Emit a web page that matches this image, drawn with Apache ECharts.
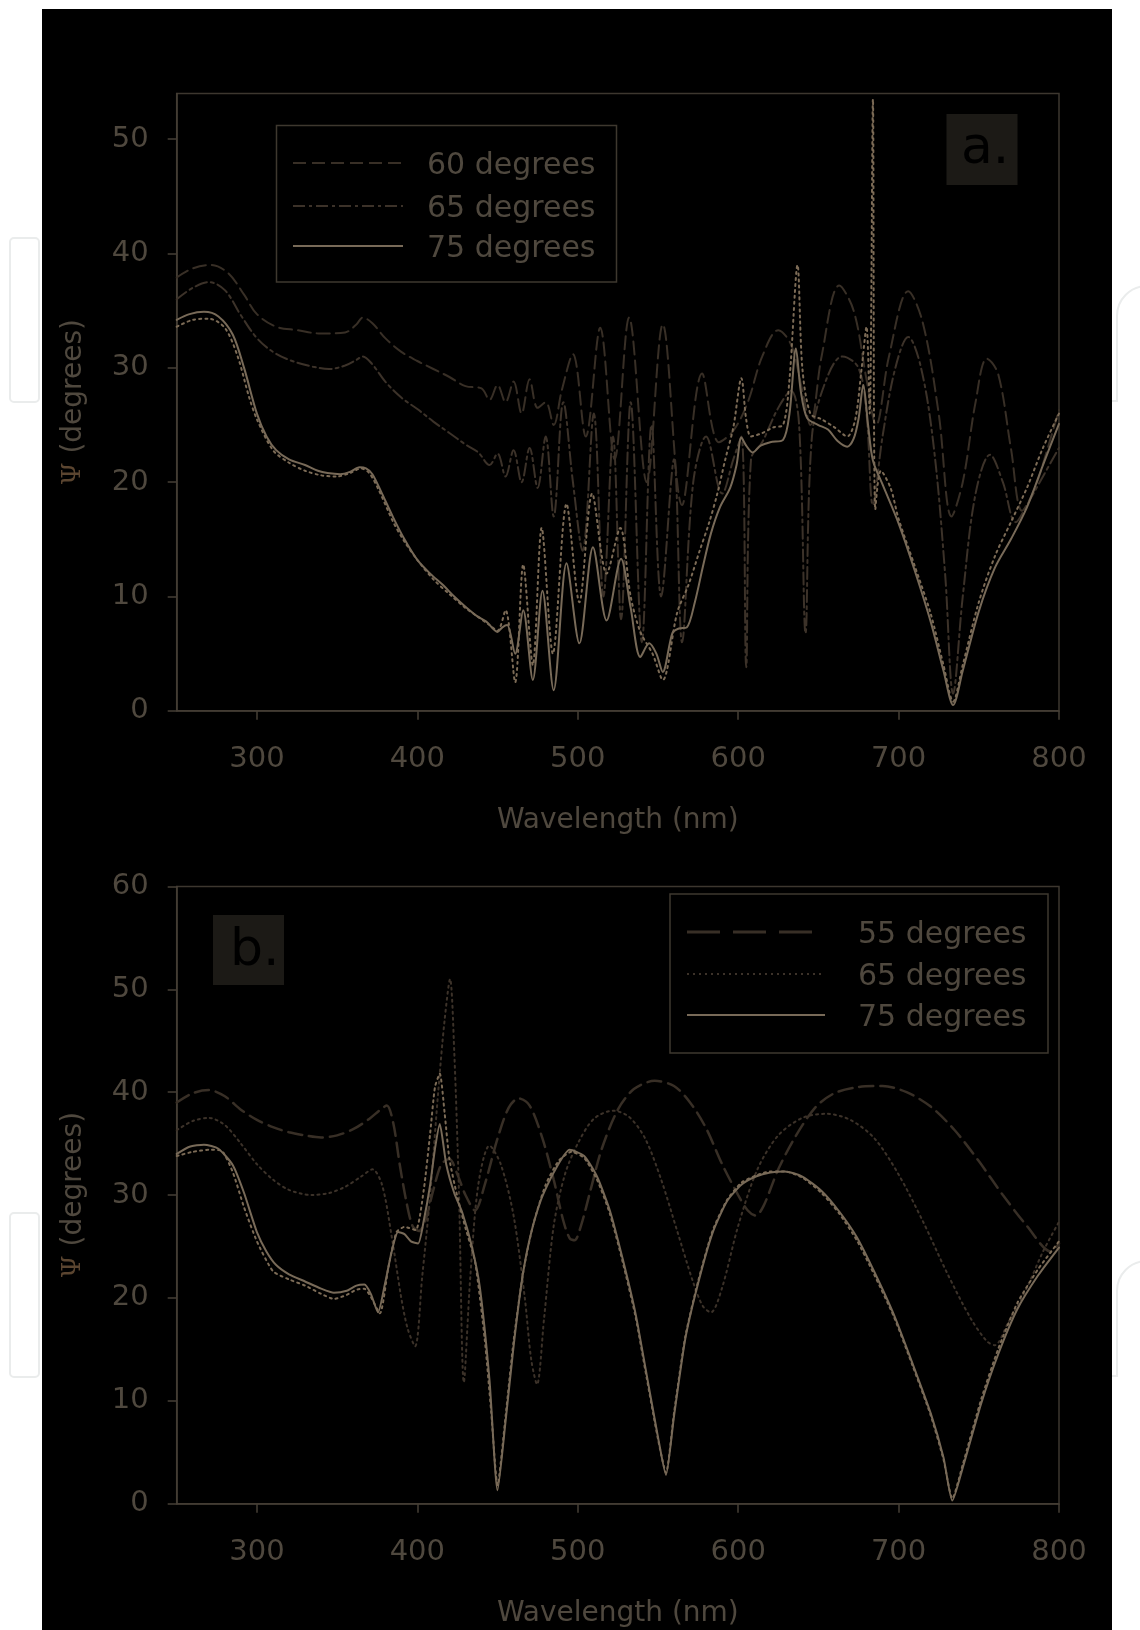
<!DOCTYPE html>
<html>
<head>
<meta charset="utf-8">
<script src="https://cdn.jsdelivr.net/npm/echarts@6/dist/echarts.min.js"></script>
<style>
  html, body { margin: 0; padding: 0; background: #ffffff; }
  #chart { width: 1140px; height: 1630px; }
</style>
</head>
<body>
<div id="chart"></div>
<script>
// Ellipsometric angle Ψ versus wavelength, two samples (a, b), several incidence angles.

const xTicks = [300, 400, 500, 600, 700, 800];
const yTicksA = [0, 10, 20, 30, 40, 50];
const yTicksB = [0, 10, 20, 30, 40, 50, 60];

// ---- panel a ----
const a60 = [[250,37.9],[260,38.7],[271,39.0],[282,38.3],[292,36.4],[300,34.7],[312,33.6],[325,33.3],[340,33.0],[355,33.1],[362,33.8],[366,34.4],[372,33.9],[380,32.6],[390,31.4],[400,30.6],[410,29.9],[420,29.2],[430,28.4],[440,28.2],[445,27.2],[450,28.5],[455,27.0],[460,28.8],[465,26.0],[470,29.0],[475,26.5],[480,27.0],[485,25.0],[490,28.0],[497,31.2],[505,24.0],[514,33.5],[523,22.0],[532,34.4],[543,20.0],[553,33.8],[565,18.0],[577.5,29.5],[588,23.5],[597,24.5],[606,27.0],[615,31.0],[625,33.3],[633,32.0],[640,28.0],[645,25.0],[652,31.0],[663,37.2],[672,35.0],[680,29.0],[686,25.0],[694,31.0],[706,36.7],[715,34.0],[725,26.0],[733,17.0],[740,20.0],[748,27.0],[755,30.8],[762,29.5],[770,23.0],[777,17.5],[785,19.5],[793,23.0],[800,26.3]];

const a65 = [[250,36.0],[260,37.0],[270,37.5],[280,36.8],[290,34.6],[300,32.6],[310,31.4],[320,30.7],[335,30.1],[345,29.9],[355,30.2],[362,30.7],[366,31.0],[372,30.3],[380,28.8],[390,27.4],[400,26.4],[410,25.3],[420,24.3],[430,23.3],[438,22.6],[445,21.5],[450,22.5],[455,20.5],[460,22.8],[465,20.0],[470,23.0],[475,19.5],[480,24.0],[485,17.0],[491,27.0],[497,20.0],[503,14.0],[510,26.0],[516,10.0],[522,24.0],[527,8.0],[533,27.0],[540,6.0],[546,25.0],[552,10.0],[560,22.0],[565,6.0],[572,20.0],[580,24.0],[590,19.0],[597,22.0],[602,24.0],[605,3.8],[608,22.0],[615,23.5],[625,26.5],[633,28.0],[638,25.0],[642,6.8],[646,24.0],[655,29.0],[665,31.0],[675,30.0],[680,26.0],[684,18.0],[690,24.0],[698,30.0],[706,32.7],[714,30.0],[722,23.0],[729,12.0],[734,1.5],[740,10.0],[748,19.0],[757,22.4],[765,20.0],[773,16.5],[780,18.0],[790,20.5],[800,23.0]];

const a75meas = [[250,33.6],[260,34.2],[270,34.3],[280,33.5],[288,31.0],[295,27.5],[300,25.5],[310,22.8],[320,21.7],[330,21.0],[340,20.6],[350,20.5],[358,20.8],[365,21.2],[370,20.8],[376,19.3],[385,16.5],[392,14.8],[400,13.2],[410,11.5],[420,10.2],[430,9.0],[438,8.2],[445,7.5],[450,7.0],[455,8.8],[461,2.5],[466,12.8],[472,4.0],[477.5,16.0],[484.5,5.0],[493,18.1],[501,9.5],[509,19.0],[518,12.0],[526.5,16.0],[533,10.0],[539,6.9],[546.6,5.0],[553,2.7],[562,8.6],[569,11.0],[576,14.0],[582,16.5],[587,19.0],[592,22.0],[597,24.8],[602,29.1],[605,25.5],[608,24.0],[615,24.3],[622,24.8],[628,25.0],[632,29.0],[637,39.0],[640,30.0],[645,26.0],[652,25.5],[660,24.8],[668,24.0],[673,25.5],[677,30.0],[680,33.6],[682,26.0],[684,53.5],[685.5,17.6],[689,21.0],[695,19.5],[700,16.8],[710,12.7],[720,8.5],[728,4.0],[734,0.8],[740,4.0],[750,9.5],[760,13.5],[770,16.5],[780,19.5],[790,23.0],[800,26.0]];

const a75 = [[250,34.2],[258,34.7],[267,34.9],[276,34.5],[285,32.9],[292,30.0],[300,26.0],[306,24.0],[312,22.8],[320,22.0],[330,21.5],[338,21.0],[344,20.8],[352,20.7],[358,20.9],[364,21.3],[368,21.2],[372,20.7],[378,19.0],[385,16.9],[392,15.0],[400,13.2],[408,12.0],[416,11.0],[423,10.0],[430,9.1],[437,8.3],[443,7.8],[450,6.9],[453,7.3],[456,7.5],[461,5.0],[466,8.8],[472,2.7],[478,10.5],[485,1.8],[493,12.9],[501,5.9],[509.5,14.3],[518,7.9],[527,13.3],[533,9.0],[539,4.7],[544.5,5.9],[549,5.0],[553,3.4],[559,6.8],[563,7.2],[568,7.3],[573,9.5],[578,12.6],[583,15.5],[588.6,17.8],[595,19.5],[599,21.5],[602,23.9],[605,23.2],[609,22.6],[614,23.2],[620,23.5],[628,23.7],[632,26.0],[636,31.7],[639,28.0],[643,25.6],[650,25.0],[656,24.6],[662,23.6],[668,23.1],[672,23.8],[675,25.5],[678,28.5],[681,25.0],[684,21.9],[690,19.8],[700,16.4],[710,12.3],[720,7.8],[728,3.5],[734,0.5],[740,3.5],[750,8.7],[760,12.5],[770,15.0],[780,17.8],[790,21.5],[800,25.1]];

// ---- panel b ----
const b55 = [[250,39.0],[260,39.9],[270,40.2],[280,39.6],[290,38.3],[300,37.3],[310,36.6],[320,36.1],[330,35.8],[340,35.6],[350,35.8],[360,36.4],[370,37.4],[377,38.3],[381,38.7],[385,37.0],[389,33.0],[393,29.5],[397,27.0],[401,26.5],[405,27.5],[410,30.5],[415,33.0],[420,33.5],[425,32.0],[430,30.0],[436,28.5],[442,31.0],[450,35.5],[457,38.5],[463,39.4],[470,38.7],[478,35.5],[485,31.5],[491,27.5],[495,25.8],[498,25.6],[502,27.0],[508,30.5],[515,34.5],[525,38.3],[535,40.3],[548,41.1],[560,40.6],[570,39.0],[580,36.5],[590,33.0],[600,30.0],[606,28.5],[611,28.0],[616,29.0],[625,32.5],[635,35.5],[648,38.5],[660,39.9],[675,40.5],[690,40.6],[705,40.0],[720,38.6],[735,36.3],[750,33.3],[765,30.0],[780,27.0],[795,24.5],[800,25.3]];

const b65 = [[250,36.3],[260,37.2],[270,37.5],[280,36.8],[290,35.0],[300,33.0],[310,31.5],[320,30.5],[334,30.0],[345,30.2],[355,30.8],[365,31.8],[372,32.5],[378,31.0],[384,26.0],[390,20.0],[394,17.0],[398.6,15.3],[403,22.0],[408,30.0],[413,40.0],[417,47.0],[420.4,51.0],[423,44.0],[426,30.0],[429,11.8],[433,22.0],[438,31.0],[445,34.8],[452,33.0],[460,28.0],[467,20.0],[471,14.0],[474.6,11.6],[479,18.0],[485,27.0],[492,32.0],[500,35.0],[510,37.4],[522,38.2],[532,37.6],[542,35.5],[552,31.5],[562,26.5],[572,21.5],[578,19.2],[583,18.6],[590,21.0],[600,27.0],[612,32.5],[625,35.8],[640,37.5],[655,37.9],[670,37.3],[685,35.5],[700,32.0],[715,27.5],[730,22.5],[745,18.0],[755,15.8],[760,15.4],[768,17.5],[780,21.0],[790,24.5],[800,27.4]];

const b75meas = [[250,33.8],[260,34.2],[270,34.4],[278,34.3],[285,32.2],[292,28.8],[300,25.5],[310,22.6],[320,21.8],[330,21.2],[340,20.4],[348,19.9],[356,20.3],[362,20.8],[367,20.9],[371,20.1],[376.7,18.5],[382,23.0],[387,26.4],[392,26.9],[399,26.6],[404,30.5],[408,36.0],[411,40.5],[414,41.8],[417,38.0],[420,33.5],[425,29.8],[430,26.8],[436,23.5],[442,16.0],[446,9.0],[450,1.8],[455,8.5],[460,15.8],[466,22.5],[472,27.0],[480,31.0],[488,33.3],[496,34.2],[504,33.6],[512,31.5],[520,28.2],[528,23.5],[536,18.2],[543,12.2],[550,6.3],[555,3.0],[560,8.8],[567,16.2],[575,21.6],[584,26.5],[593,29.5],[602,31.2],[611,31.9],[620,32.3],[629,32.3],[640,31.7],[652,30.2],[663,28.2],[674,25.6],[685,22.2],[697,18.2],[709,13.3],[720,8.6],[728,4.3],[733.5,0.5],[740,3.8],[751.6,10.2],[762,15.0],[774,19.5],[787,22.8],[800,25.5]];

const b75 = [[250,34.0],[258,34.7],[267,34.9],[276,34.5],[285,32.9],[292,30.2],[300,26.4],[306,24.5],[312,23.2],[320,22.3],[330,21.6],[340,20.9],[348,20.5],[356,20.7],[362,21.2],[367,21.3],[371,20.4],[375.5,18.6],[380,21.5],[384,24.5],[388,26.4],[392,26.2],[396,25.5],[400.5,25.3],[404,27.5],[408,31.0],[411,34.5],[414,36.9],[418,33.0],[423,30.2],[428,28.3],[434,25.0],[439,21.0],[445,12.0],[450,1.3],[455,8.0],[460,15.3],[465,21.5],[470,25.7],[477,29.5],[485,32.2],[495,34.4],[504,33.8],[512,31.8],[520,28.5],[528,23.8],[536,18.5],[543,12.5],[550,6.5],[555,2.8],[560,8.5],[567,16.0],[575,21.4],[584,26.3],[593,29.4],[602,31.0],[611,31.8],[620,32.2],[629,32.3],[640,31.8],[652,30.4],[663,28.4],[674,25.9],[685,22.5],[697,18.4],[709,13.5],[720,8.8],[728,4.5],[733.5,0.3],[740,3.5],[751.6,9.8],[762,14.5],[774,18.9],[787,22.2],[800,24.9]];

const legendA = ['60 degrees', '65 degrees', '75 degrees'];
const legendB = ['55 degrees', '65 degrees', '75 degrees'];

// ---- styling ----
const FONT = '"DejaVu Sans", "Liberation Sans", sans-serif';
const TEXT = '#4f483e';
const AXIS = '#463f36';
const DARK = '#382f26';
const DARK2 = '#3c3229';
const LIGHT = '#7c6b56';
const SOLID = '#786a58';

const DASH = [13, 6];
const DASHDOT = [12, 4, 3, 4];
const DOTS = [2, 4];

function xAxis(grid) {
  return {
    type: 'value', gridIndex: grid, min: 250, max: 800, interval: 50,
    axisLine: { show: true, lineStyle: { color: AXIS, width: 1.5 } },
    axisTick: { show: true, customValues: xTicks, length: 9, lineStyle: { color: AXIS, width: 1.5 } },
    axisLabel: { customValues: xTicks, margin: 34, color: TEXT, fontSize: 29, fontFamily: FONT },
    splitLine: { show: false },
    name: 'Wavelength (nm)', nameLocation: 'middle', nameGap: 96,
    nameTextStyle: { color: TEXT, fontSize: 28, fontFamily: FONT }
  };
}
function yAxis(grid, max, ticks) {
  return {
    type: 'value', gridIndex: grid, min: 0, max: max, interval: 10,
    axisLine: { show: true, lineStyle: { color: AXIS, width: 1.5 } },
    axisTick: { show: true, customValues: ticks, length: 9, lineStyle: { color: AXIS, width: 1.5 } },
    axisLabel: { customValues: ticks, margin: 28, color: TEXT, fontSize: 29, fontFamily: FONT },
    splitLine: { show: false },
    name: '{psi|Ψ} (degrees)', nameLocation: 'middle', nameRotate: 90, nameGap: 89,
    nameTextStyle: {
      color: TEXT, fontSize: 28, fontFamily: FONT,
      rich: { psi: { color: '#5b4530', fontSize: 26, fontFamily: '"DejaVu Serif", serif' } }
    }
  };
}
function line(name, data, idx, color, type, width, smooth) {
  return {
    name: name, type: 'line', xAxisIndex: idx, yAxisIndex: idx,
    data: data, showSymbol: false, symbol: 'none', smooth: smooth,
    lineStyle: { color: color, width: width, type: type, cap: 'round' },
    silent: true, animation: false
  };
}

// legend box drawn inside a panel
function legendBox(x, y, w, h, lineX1, lineX2, textX, rows, names, styles) {
  const els = [{
    type: 'rect', shape: { x: x, y: y, width: w, height: h },
    style: { fill: '#000000', stroke: '#3e382f', lineWidth: 1.5 }, z: 50
  }];
  rows.forEach((ry, i) => {
    els.push({
      type: 'line', shape: { x1: lineX1, y1: ry, x2: lineX2, y2: ry },
      style: { stroke: styles[i].color, lineWidth: styles[i].width, lineDash: styles[i].dash }, z: 51
    });
    els.push({
      type: 'text', x: textX, y: ry + 3,
      style: { text: names[i], fill: TEXT, font: '30px ' + FONT, textAlign: 'left', textVerticalAlign: 'middle' }, z: 51
    });
  });
  return els;
}

function panelTag(x, y, w, h, tx, ty, label) {
  return [
    { type: 'rect', shape: { x: x, y: y, width: w, height: h }, style: { fill: '#1c1a16' }, z: 50 },
    { type: 'text', x: tx, y: ty, style: { text: label, fill: '#000000', font: '52px ' + FONT, textAlign: 'left', textVerticalAlign: 'middle' }, z: 51 }
  ];
}

// faint outline marks in the white page margins
const margin = { stroke: '#eaecec', lineWidth: 2, fill: null };
function marginMarks(dy) {
  return [
    { type: 'rect', shape: { x: 10, y: 238 + dy, width: 29, height: 164, r: 4 }, style: margin, z: -90 },
    { type: 'polyline', shape: { points: [[1112, 401 + dy], [1117, 401 + dy], [1117, 316 + dy]] }, style: margin, z: -90 },
    { type: 'arc', shape: { cx: 1147, cy: 316 + dy, r: 30, startAngle: Math.PI, endAngle: Math.PI * 1.5, clockwise: true }, style: margin, z: -90 }
  ];
}

const graphics = [
  { type: 'rect', shape: { x: 42, y: 9, width: 1070, height: 1621 }, style: { fill: '#000000' }, z: -100 }
]
  .concat(marginMarks(0), marginMarks(975))
  .concat(legendBox(276.5, 125.5, 340, 156.5, 293, 403, 427, [163, 206, 246], legendA, [
    { color: DARK, width: 2, dash: DASH },
    { color: DARK2, width: 2, dash: DASHDOT },
    { color: SOLID, width: 2, dash: null }
  ]))
  .concat(legendBox(670, 894, 378, 159, 687, 825, 858, [932, 974, 1015], legendB, [
    { color: DARK, width: 3, dash: [33, 13] },
    { color: DARK2, width: 2, dash: DOTS },
    { color: SOLID, width: 2, dash: null }
  ]))
  .concat(panelTag(946.5, 114, 71, 71, 961, 149, 'a.'))
  .concat(panelTag(213, 915, 71, 70, 230, 951, 'b.'));

const option = {
  animation: false,
  backgroundColor: 'transparent',
  grid: [
    { left: 176.7, top: 93.5, width: 882.3, height: 617.3, show: true, borderColor: '#3d372f', borderWidth: 1.5, backgroundColor: 'transparent', containLabel: false },
    { left: 176.7, top: 886.4, width: 882.3, height: 617.3, show: true, borderColor: '#3d372f', borderWidth: 1.5, backgroundColor: 'transparent', containLabel: false }
  ],
  xAxis: [xAxis(0), xAxis(1)],
  yAxis: [yAxis(0, 54, yTicksA), yAxis(1, 60, yTicksB)],
  graphic: { elements: graphics },
  series: [
    line(legendA[0], a60, 0, DARK, DASH, 2, 0.35),
    line(legendA[1], a65, 0, DARK2, DASHDOT, 2, 0.35),
    line('75 degrees data', a75meas, 0, LIGHT, DOTS, 2, 0.3),
    line(legendA[2], a75, 0, SOLID, 'solid', 2, 0.3),
    line(legendB[0], b55, 1, DARK, [14, 7], 2.5, 0.3),
    line(legendB[1], b65, 1, DARK2, DOTS, 2, 0.3),
    line('75 degrees data ', b75meas, 1, LIGHT, DOTS, 2, 0.2),
    line(legendB[2], b75, 1, SOLID, 'solid', 2, 0.2)
  ]
};

const chart = echarts.init(document.getElementById('chart'), null, { renderer: 'canvas' });
chart.setOption(option);
</script>
</body>
</html>
